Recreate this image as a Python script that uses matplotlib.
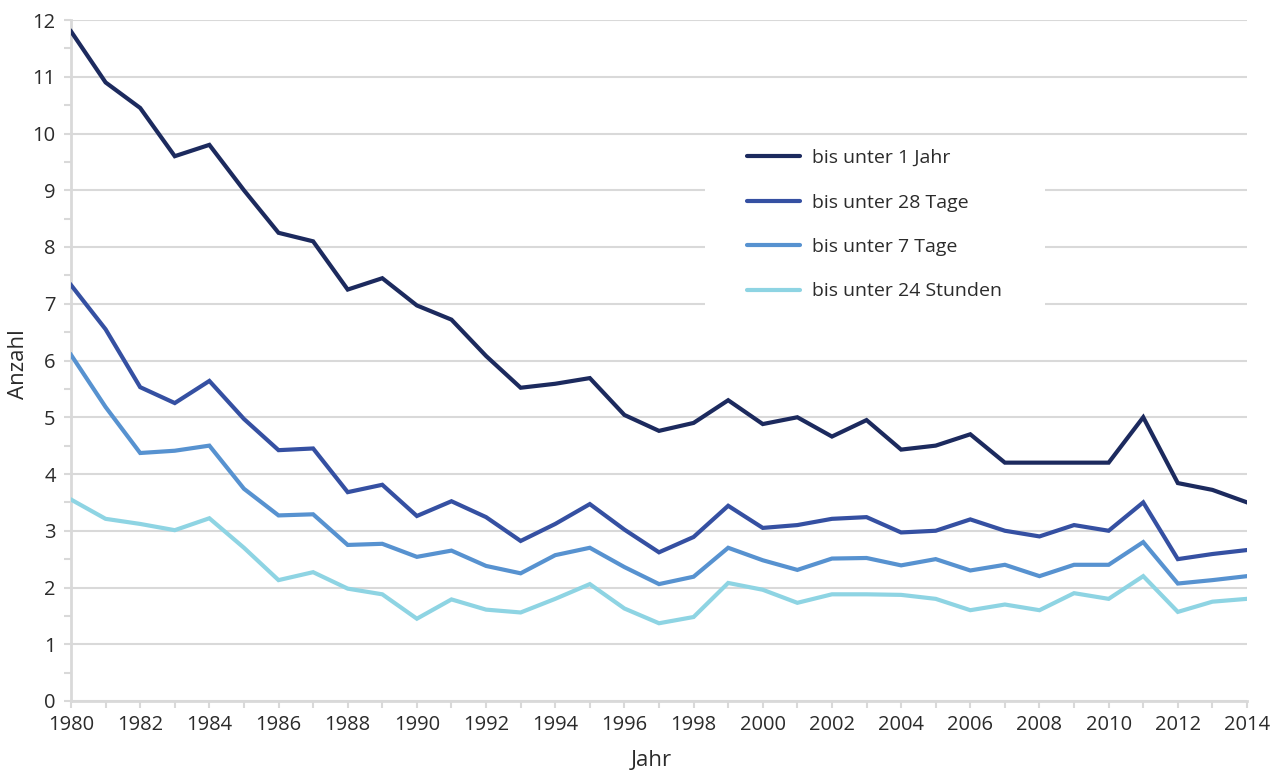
import matplotlib
matplotlib.use("Agg")
import matplotlib.pyplot as plt
from matplotlib.ticker import MultipleLocator
from matplotlib.patches import Rectangle

years = list(range(1980, 2015))

unter_1_jahr = [11.8, 10.9, 10.45, 9.6, 9.8, 9.0, 8.25, 8.1, 7.25, 7.45,
                6.97, 6.72, 6.08, 5.52, 5.59, 5.69, 5.04, 4.76, 4.9, 5.3,
                4.88, 5.0, 4.66, 4.95, 4.43, 4.5, 4.7, 4.2, 4.2, 4.2,
                4.2, 5.0, 3.84, 3.72, 3.5]
unter_28_tage = [7.33, 6.55, 5.53, 5.25, 5.64, 4.97, 4.42, 4.45, 3.68, 3.81,
                 3.26, 3.52, 3.24, 2.82, 3.12, 3.47, 3.02, 2.62, 2.89, 3.44,
                 3.05, 3.1, 3.21, 3.24, 2.97, 3.0, 3.2, 3.0, 2.9, 3.1,
                 3.0, 3.5, 2.5, 2.59, 2.66]
unter_7_tage = [6.1, 5.18, 4.37, 4.41, 4.5, 3.74, 3.27, 3.29, 2.75, 2.77,
                2.54, 2.65, 2.38, 2.25, 2.57, 2.7, 2.36, 2.06, 2.19, 2.7,
                2.48, 2.31, 2.51, 2.52, 2.39, 2.5, 2.3, 2.4, 2.2, 2.4,
                2.4, 2.8, 2.07, 2.13, 2.2]
unter_24_std = [3.55, 3.21, 3.12, 3.01, 3.22, 2.7, 2.13, 2.27, 1.98, 1.88,
                1.45, 1.79, 1.61, 1.56, 1.8, 2.06, 1.63, 1.37, 1.48, 2.08,
                1.96, 1.73, 1.88, 1.88, 1.87, 1.8, 1.6, 1.7, 1.6, 1.9,
                1.8, 2.2, 1.57, 1.75, 1.8]

labels = ["bis unter 1 Jahr", "bis unter 28 Tage", "bis unter 7 Tage", "bis unter 24 Stunden"]
colors = ["#1c2a5e", "#3550a2", "#5792d0", "#8ed4e3"]
series = [unter_1_jahr, unter_28_tage, unter_7_tage, unter_24_std]

plt.rcParams['font.family'] = ['Open Sans', 'DejaVu Sans']
txt = "#2b2b2b"
grid = "#d9d9d9"

W, H = 1282, 771
fig = plt.figure(figsize=(W/100, H/100), dpi=100)
ax = fig.add_axes([71/W, 70/H, (1247-71)/W, (701-20)/H])

for s, lab, c in zip(series, labels, colors):
    ax.plot(years, s, color=c, lw=3.0, label=lab, solid_joinstyle='miter', zorder=3)

ax.set_xlim(1980, 2014)
ax.set_ylim(0, 12)
ax.xaxis.set_major_locator(MultipleLocator(2))
ax.xaxis.set_minor_locator(MultipleLocator(1))
ax.yaxis.set_major_locator(MultipleLocator(1))
ax.yaxis.set_minor_locator(MultipleLocator(0.5))

ax.grid(axis='y', which='major', color=grid, lw=1.5, zorder=0)
for sp in ['top', 'right']:
    ax.spines[sp].set_visible(False)
for sp in ['left', 'bottom']:
    ax.spines[sp].set_color(grid)
    ax.spines[sp].set_linewidth(2.0)
    ax.spines[sp].set_zorder(1)

ax.tick_params(axis='both', which='both', color=grid, width=1.5, length=5,
               labelsize=14.5, labelcolor=txt, direction='out')
ax.tick_params(axis='y', which='major', pad=6)
ax.tick_params(axis='x', which='major', pad=5)

ax.set_xlabel("Jahr", fontsize=16, color=txt)
ax.set_ylabel("Anzahl", fontsize=16, color=txt)
ax.yaxis.label.set_verticalalignment('center')
ax.yaxis.set_label_coords((18 - 71) / 1176, (701 - 364) / 681)
ax.xaxis.label.set_verticalalignment('center')
ax.xaxis.set_label_coords((651 - 71) / 1176, (701 - 760) / 681)

# white legend background area
ax.add_patch(Rectangle((705/W, 1-312/H), (1045-705)/W, (312-140)/H,
                       transform=fig.transFigure, facecolor='white',
                       edgecolor='none', zorder=2))

leg = ax.legend(loc='upper left', bbox_to_anchor=(733/W, 1-135.5/H),
                bbox_transform=fig.transFigure, frameon=False,
                fontsize=14, handlelength=2.75, handletextpad=0.6,
                labelspacing=1.36, borderpad=0.7, borderaxespad=0)
for t in leg.get_texts():
    t.set_color(txt)
for h in leg.get_lines():
    h.set_solid_capstyle('round')
leg.set_zorder(4)

fig.savefig("out.png", dpi=100)
